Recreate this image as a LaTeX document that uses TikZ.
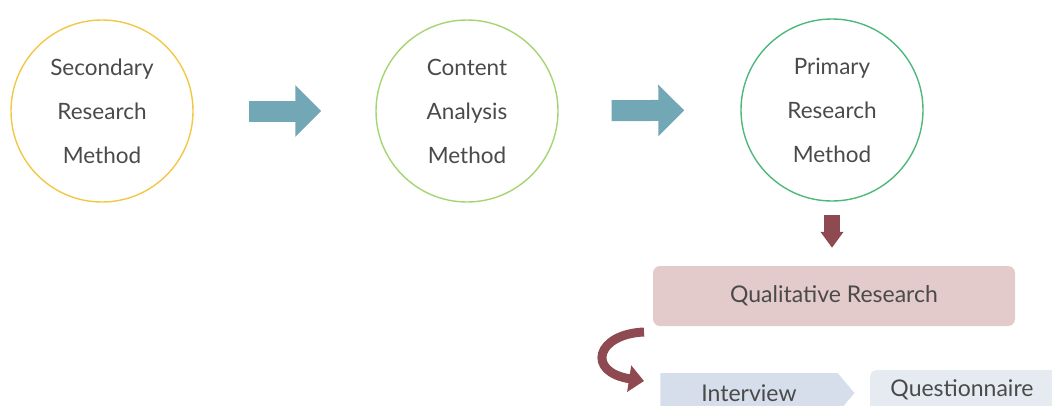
\documentclass[tikz,border=0pt]{standalone}
\usepackage{fontspec}
\setmainfont{Lato}
\usetikzlibrary{arrows.meta,shapes.symbols}
\definecolor{txtgray}{HTML}{4A4A4A}
\definecolor{ringyellow}{HTML}{F2C744}
\definecolor{ringlime}{HTML}{A6D472}
\definecolor{ringgreen}{HTML}{4DB87A}
\definecolor{flowblue}{HTML}{72A8B6}
\definecolor{wine}{HTML}{8E4A50}
\definecolor{rosefill}{HTML}{E3CACB}
\definecolor{steelfill}{HTML}{D5DEEA}
\definecolor{palefill}{HTML}{E6EBF2}
\tikzset{
  stage/.style={circle, draw=#1, line width=1.4pt, minimum size=182pt, inner sep=0pt,
    align=center, text=txtgray, font=\fontsize{22.5}{44}\selectfont},
  flowarrow/.style={draw=flowblue, line width=21pt,
    -{Triangle[length=26pt,width=50pt]}},
  downarrow/.style={draw=wine, line width=16pt,
    -{Triangle[length=16pt,width=22pt]}},
  labeltext/.style={text=txtgray, font=\fontsize{23}{26}\selectfont}
}
\begin{document}
\begin{tikzpicture}[x=1pt,y=-1pt]
\useasboundingbox (0,0) rectangle (1052,405);

% three research stages
\node[stage=ringyellow] (sec) at (102,111) {Secondary\\Research\\Method};
\node[stage=ringlime]   (con) at (467,111) {Content\\Analysis\\Method};
\node[stage=ringgreen]  (pri) at (832,110) {Primary\\Research\\Method};

\draw[flowarrow, shorten <=55pt, shorten >=54pt] (sec) -- (con);
\draw[flowarrow, shorten <=53pt, shorten >=56pt] (con) -- (pri);

% qualitative research box
\node[rectangle, rounded corners=7pt, fill=rosefill, minimum width=362pt,
  minimum height=60pt, labeltext] (qual) at (834,296) {Qualitative Research};

\draw[downarrow, shorten <=13pt, shorten >=18pt] (pri.south) -- (qual.north -| pri.south);

% data collection methods
\node[signal, signal to=east, signal pointer angle=100, fill=steelfill,
  minimum width=194pt, minimum height=40pt, inner sep=0pt, labeltext]
  (int) at (749,393) {Interview};
\node[rectangle, rounded corners=6pt, fill=palefill, minimum width=195pt,
  minimum height=46pt, anchor=north west] (que) at (870,370) {};
\node[labeltext, anchor=center] (quetext) at (962,390) {Questionnaire};

% curved arrow from the box down to the methods
\coordinate (cstart) at (644,332);
\coordinate (cend) at (644,381);
\draw[wine, line width=9pt, -{Triangle[length=15pt,width=26pt]}]
  (cstart) .. controls (596,334) and (586,372) .. (cend);
\end{tikzpicture}
\end{document}
